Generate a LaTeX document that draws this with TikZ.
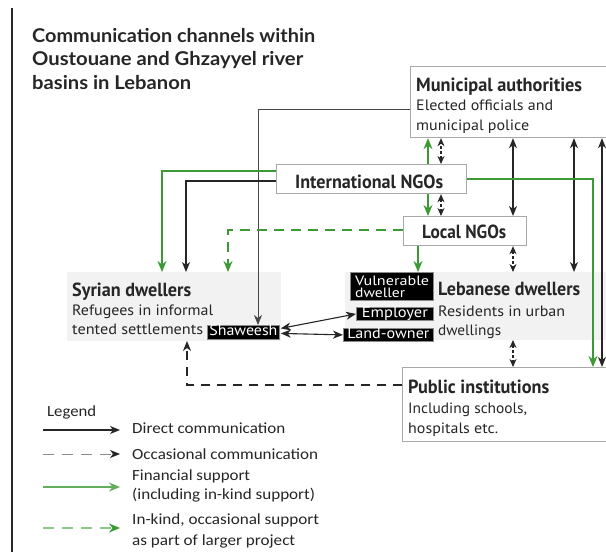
\documentclass[tikz,border=0pt]{standalone}
\usepackage{fontspec}
\usepackage{graphicx}
\usetikzlibrary{arrows.meta,calc}
\newfontfamily\titlefont{Lato}
\newfontfamily\headfont{PT Sans}
\newfontfamily\bodyfont{PT Sans}
\newfontfamily\legfont{Carlito}
\newfontfamily\labfont{PT Sans}
\newcommand\fitto[2]{\resizebox{#1pt}{\height}{#2}}
\newcommand\tfs{\titlefont\bfseries\fontsize{19}{19}\selectfont}
\newcommand\hfs{\headfont\bfseries\fontsize{19}{19}\selectfont}
\newcommand\bfs{\bodyfont\fontsize{15}{15}\selectfont}
\newcommand\lfs{\legfont\fontsize{15.5}{15.5}\selectfont}
\newcommand\kfs{\labfont\fontsize{15}{15}\selectfont}
\newcommand\vfs{\labfont\fontsize{13.5}{13.5}\selectfont}
\definecolor{mygreen}{HTML}{3C9A35}
\definecolor{lightgreen}{HTML}{8CCB87}
\definecolor{boxgray}{HTML}{A8A8A8}
\definecolor{shadegray}{HTML}{F2F2F2}
\definecolor{labgray}{HTML}{8A8A8A}
\definecolor{txtgray}{HTML}{262626}
\definecolor{arrblack}{HTML}{262626}
\tikzset{
  box/.style={draw=boxgray, line width=1.2pt, fill=white, inner sep=0pt, anchor=north west},
  shadebox/.style={fill=shadegray, draw=none, inner sep=0pt, outer sep=0pt, anchor=north west},
  labbox/.style={fill=black, draw=labgray, line width=0.8pt, inner sep=0pt, text=white, anchor=north west, text height=10pt, text depth=3pt},
  txt/.style={anchor=base west, inner sep=0pt, text=txtgray},
  wtxt/.style={anchor=base west, inner sep=0pt, text=white},
  blk/.style={draw=arrblack, line width=1.1pt},
  thinblk/.style={draw=arrblack!85, line width=1pt},
  grn/.style={draw=mygreen, line width=1.5pt},
  hd/.style={-{Stealth[length=10pt,width=8pt,inset=3pt]}},
  hdd/.style={{Stealth[length=10pt,width=8pt,inset=3pt]}-{Stealth[length=10pt,width=8pt,inset=3pt]}},
  hds/.style={{Stealth[length=8pt,width=7pt,inset=2.5pt]}-{Stealth[length=8pt,width=7pt,inset=2.5pt]}},
  ghd/.style={-{Stealth[length=11pt,width=9pt,inset=3.5pt]}},
  shortdash/.style={dash pattern=on 3pt off 2pt},
}
\begin{document}
\begin{tikzpicture}[x=1pt,y=-1pt]
\useasboundingbox (0,0) rectangle (606,552);
\clip (0,0) rectangle (606,552);
\fill[white] (0,0) rectangle (606,552);

% left rule
\coordinate (rt) at (12,8);
\coordinate (rb) at (12,552);
\draw[draw=txtgray, line width=1.3pt] (rt) -- (rb);

% title
\node[txt] (title1) at (32,42) {\fitto{283}{\tfs Communication channels within}};
\node[txt] (title2) at (32,65) {\fitto{271}{\tfs Oustouane and Ghzayyel river}};
\node[txt] (title3) at (32,89) {\fitto{159}{\tfs basins in Lebanon}};

% shaded groups
\node[shadebox, minimum width=214pt, minimum height=69pt] (syr) at (67,272) {};
\node[shadebox, minimum width=265pt, minimum height=68pt] (leb) at (345,272) {};

% boxes
\node[box, minimum width=200pt, minimum height=71pt] (mun) at (410,66) {};
\node[box, minimum width=190pt, minimum height=29pt] (ingo) at (276,164) {};
\node[box, minimum width=123pt, minimum height=29pt] (lngo) at (403,216) {};
\node[box, minimum width=210pt, minimum height=74pt] (pub) at (402,367) {};

% box texts
\node[txt] (munT1) at (416,91) {\fitto{166}{\hfs Municipal authorities}};
\node[txt] (munT2) at (416,110) {\fitto{137}{\bfs Elected officials and}};
\node[txt] (munT3) at (416,130) {\fitto{113}{\bfs municipal police}};
\node[txt] (ingoT) at (295,188) {\fitto{148}{\hfs International NGOs}};
\node[txt] (lngoT) at (422,238) {\fitto{84}{\hfs Local NGOs}};
\node[txt] (syrT1) at (72,296) {\fitto{119}{\hfs Syrian dwellers}};
\node[txt] (syrT2) at (72,315) {\fitto{141}{\bfs Refugees in informal}};
\node[txt] (syrT3) at (72,334) {\fitto{131}{\bfs tented settlements}};
\node[txt] (lebT1) at (438,295) {\fitto{142}{\hfs Lebanese dwellers}};
\node[txt] (lebT2) at (438,316) {\fitto{127}{\bfs Residents in urban}};
\node[txt] (lebT3) at (438,335) {\fitto{63}{\bfs dwellings}};
\node[txt] (pubT1) at (408,393) {\fitto{141}{\hfs Public institutions}};
\node[txt] (pubT2) at (408,413) {\fitto{119}{\bfs Including schools,}};
\node[txt] (pubT3) at (408,433) {\fitto{90}{\bfs hospitals etc.}};

% black labels
\node[labbox, minimum width=72pt, minimum height=14pt] (shaw) at (207,325) {\fitto{68}{\kfs Shaweesh}};
\node[labbox, minimum width=83pt, minimum height=28pt, text height=0pt, text depth=0pt] (vul) at (350,272) {};
\node[wtxt] (vulT1) at (355,285) {\fitto{74}{\vfs Vulnerable}};
\node[wtxt] (vulT2) at (355,297.5) {\fitto{50}{\vfs dweller}};
\node[labbox, minimum width=77pt, minimum height=13pt] (emp) at (356,307) {\fitto{66}{\kfs Employer}};
\node[labbox, minimum width=90pt, minimum height=13pt] (land) at (343,328) {\fitto{82}{\kfs Land-owner}};

% connectors
\draw[thinblk, hd] (mun.west |- 0,109) -| (shaw.north -| 258,0);
\draw[grn, ghd] (ingo.west |- 0,171) -| (syr.north -| 162,0);
\draw[blk, hd] (ingo.west |- 0,181) -| (syr.north -| 186,0);
\draw[grn, ghd, dash pattern=on 10pt off 7pt] (lngo.west |- 0,230) -| (syr.north -| 228,0);
\draw[grn, ghd] (ingo.north -| 428,0) -- (mun.south -| 428,0);
\draw[blk, hds, shortdash] (ingo.north -| 441,0) -- (mun.south -| 441,0);
\draw[grn, ghd] (ingo.south -| 428,0) -- (lngo.north -| 428,0);
\draw[blk, hds, shortdash] (ingo.south -| 441,0) -- (lngo.north -| 441,0);
\draw[blk, hdd] (mun.south -| 513,0) -- (lngo.north -| 513,0);
\draw[grn, ghd] (lngo.south -| 418,0) -- (vul.north -| 418,0);
\draw[blk, hds, shortdash] (lngo.south -| 513,0) -- (leb.north -| 513,0);
\draw[blk, hdd] (mun.south -| 574,0) -- (leb.north -| 574,0);
\draw[blk, hdd] (mun.south -| 602,0) -- (pub.north -| 602,0);
\draw[grn, ghd] (ingo.east |- 0,179) -| (pub.north -| 593,0);
\draw[blk, hds, shortdash] (leb.south -| 513,0) -- (pub.north -| 513,0);
\draw[blk, hd, dash pattern=on 9pt off 7pt] (pub.west |- 0,385) -| (syr.south -| 187,0);
\draw[blk, hdd] ($(shaw.east)+(1,-4)$) -- (emp.west);
\draw[blk, hdd] ($(shaw.east)+(1,1)$) -- (land.west);

% legend
\node[txt] (legT) at (47,416) {\fitto{49}{\lfs Legend}};
\coordinate (la1) at (43,430); \coordinate (lb1) at (120,430);
\coordinate (la2) at (43,454); \coordinate (lb2) at (120,454);
\coordinate (la3) at (43,487); \coordinate (lb3) at (120,487);
\coordinate (la4) at (43,528); \coordinate (lb4) at (120,528);
\draw[blk, hd] (la1) -- (lb1);
\draw[draw=black!45, line width=1pt, dash pattern=on 11pt off 8pt, -{Stealth[length=10pt,width=8pt,inset=3pt,color=arrblack]}] (la2) -- (lb2);
\draw[draw=mygreen!80, line width=1.3pt, ghd] (la3) -- (lb3);
\draw[draw=lightgreen, line width=1.2pt, dash pattern=on 11pt off 8pt, -{Stealth[length=11pt,width=9pt,inset=3.5pt,color=mygreen]}] (la4) -- (lb4);
\node[txt] (leg1) at (132,433) {\fitto{153}{\lfs Direct communication}};
\node[txt] (leg2) at (132,459) {\fitto{186}{\lfs Occasional communication}};
\node[txt] (leg3a) at (132,480) {\fitto{118}{\lfs Financial support}};
\node[txt] (leg3b) at (132,499) {\fitto{183}{\lfs (including in-kind support)}};
\node[txt] (leg4a) at (132,524) {\fitto{187}{\lfs In-kind, occasional support}};
\node[txt] (leg4b) at (132,545) {\fitto{163}{\lfs as part of larger project}};
\end{tikzpicture}
\end{document}
